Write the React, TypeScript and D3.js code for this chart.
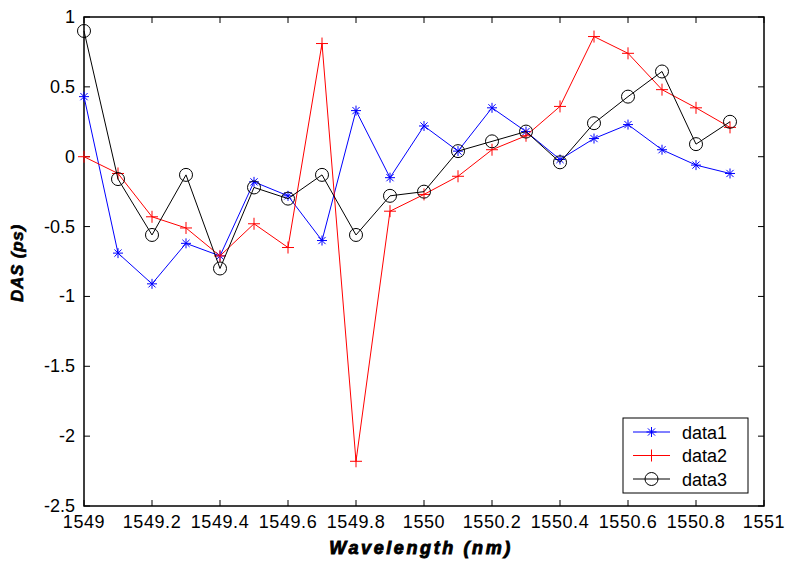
import * as d3 from 'd3';
import React, {useEffect, useRef} from 'react';

// wavelength grid (nm)
const wavelengths = [1549, 1549.1, 1549.2, 1549.3, 1549.4, 1549.5, 1549.6, 1549.7, 1549.8, 1549.9,
  1550, 1550.1, 1550.2, 1550.3, 1550.4, 1550.5, 1550.6, 1550.7, 1550.8, 1550.9];

const data1 = [0.43, -0.69, -0.91, -0.62, -0.71, -0.18, -0.28, -0.60, 0.33, -0.15,
  0.22, 0.04, 0.35, 0.18, -0.02, 0.13, 0.23, 0.05, -0.06, -0.12];
const data2 = [0, -0.12, -0.43, -0.51, -0.71, -0.48, -0.65, 0.81, -2.18, -0.39,
  -0.27, -0.14, 0.05, 0.15, 0.36, 0.86, 0.74, 0.48, 0.35, 0.21];
const data3 = [0.90, -0.16, -0.56, -0.13, -0.80, -0.22, -0.30, -0.13, -0.56, -0.28,
  -0.25, 0.04, 0.11, 0.18, -0.04, 0.24, 0.43, 0.61, 0.09, 0.25];

const xTicks = [1549, 1549.2, 1549.4, 1549.6, 1549.8, 1550, 1550.2, 1550.4, 1550.6, 1550.8, 1551];
const yTicks = [1, 0.5, 0, -0.5, -1, -1.5, -2, -2.5];

const seriesNames = ['data1', 'data2', 'data3'];
const seriesColors = ['#0000ff', '#ff0000', '#000000'];
const seriesMarkers = ['star', 'plus', 'circle'];

const font = '"Liberation Sans", Arial, sans-serif';

function drawMarker(g: any, type: string, color: string) {
  if (type === 'circle') {
    g.append('circle').attr('r', 6.5).attr('fill', 'none').attr('stroke', color).attr('stroke-width', 1);
  } else if (type === 'plus') {
    g.append('path').attr('d', 'M-6,0H6M0,-6V6').attr('stroke', color).attr('stroke-width', 1);
  } else {
    g.append('path')
      .attr('d', 'M-5,0H5M0,-5V5M-3.6,-3.6L3.6,3.6M-3.6,3.6L3.6,-3.6')
      .attr('stroke', color).attr('stroke-width', 1);
  }
}

const App = () => {
  const ref = useRef<SVGSVGElement>(null);

  useEffect(() => {
    const svg = d3.select(ref.current);
    svg.selectAll('*').remove();
    const width = 785;
    const height = 562;
    const margin = {top: 17, right: 21, bottom: 56, left: 84};

    const x = d3.scaleLinear().domain([1549, 1551]).range([margin.left, width - margin.right]);
    const y = d3.scaleLinear().domain([-2.5, 1]).range([height - margin.bottom, margin.top]);

    svg.append('rect').attr('width', width).attr('height', height).attr('fill', '#fff');

    // axes with inward ticks, mirrored on top/right
    const tickLen = 6;
    const axisG = svg.append('g').attr('stroke', '#000').attr('stroke-width', 1);
    xTicks.forEach((t) => {
      axisG.append('line').attr('x1', x(t)).attr('x2', x(t))
        .attr('y1', y(-2.5)).attr('y2', y(-2.5) - tickLen);
      axisG.append('line').attr('x1', x(t)).attr('x2', x(t))
        .attr('y1', y(1)).attr('y2', y(1) + tickLen);
    });
    yTicks.forEach((t) => {
      axisG.append('line').attr('x1', x(1549)).attr('x2', x(1549) + tickLen)
        .attr('y1', y(t)).attr('y2', y(t));
      axisG.append('line').attr('x1', x(1551)).attr('x2', x(1551) - tickLen)
        .attr('y1', y(t)).attr('y2', y(t));
    });
    svg.append('rect')
      .attr('x', x(1549)).attr('y', y(1))
      .attr('width', x(1551) - x(1549)).attr('height', y(-2.5) - y(1))
      .attr('fill', 'none').attr('stroke', '#000').attr('stroke-width', 1.5);

    svg.append('g').selectAll('text').data(xTicks).join('text')
      .attr('x', (d) => x(d)).attr('y', y(-2.5) + 22)
      .attr('text-anchor', 'middle')
      .style('font-family', font).style('font-size', '18px')
      .style('letter-spacing', '0.6px')
      .text((d) => String(d));

    svg.append('g').selectAll('text').data(yTicks).join('text')
      .attr('x', x(1549) - 9).attr('y', (d) => y(d) + 6)
      .attr('text-anchor', 'end')
      .style('font-family', font).style('font-size', '18px')
      .text((d) => String(d));

    // series
    const allSeries = [data1, data2, data3];
    const line = d3.line<number>().x((d, i) => x(wavelengths[i])).y((d) => y(d));
    allSeries.forEach((vals, si) => {
      svg.append('path').datum(vals).attr('d', line)
        .attr('fill', 'none').attr('stroke', seriesColors[si]).attr('stroke-width', 1);
      vals.forEach((v, i) => {
        const g = svg.append('g').attr('transform', `translate(${x(wavelengths[i])},${y(v)})`);
        drawMarker(g, seriesMarkers[si], seriesColors[si]);
      });
    });

    // axis titles (heavy bold italic, like the original)
    svg.append('text')
      .attr('x', (x(1549) + x(1551)) / 2 - 3).attr('y', 554)
      .attr('text-anchor', 'middle')
      .style('font-family', font).style('font-size', '18px')
      .style('font-weight', 'bold').style('font-style', 'italic')
      .style('letter-spacing', '2.6px')
      .attr('stroke', '#000').attr('stroke-width', 0.9)
      .text('Wavelength (nm)');

    svg.append('text')
      .attr('transform', `translate(23,263) rotate(-90)`)
      .attr('text-anchor', 'middle')
      .style('font-family', font).style('font-size', '17px')
      .style('font-weight', 'bold').style('font-style', 'italic')
      .style('letter-spacing', '0.8px')
      .attr('stroke', '#000').attr('stroke-width', 0.6)
      .text('DAS (ps)');

    // legend
    const lg = svg.append('g').attr('transform', 'translate(623,418)');
    lg.append('rect').attr('width', 125).attr('height', 75)
      .attr('fill', '#fff').attr('stroke', '#000').attr('stroke-width', 1);
    seriesNames.forEach((name, i) => {
      const yy = 14 + i * 23.5;
      lg.append('line').attr('x1', 10).attr('x2', 47).attr('y1', yy).attr('y2', yy)
        .attr('stroke', seriesColors[i]).attr('stroke-width', 1);
      const m = lg.append('g').attr('transform', `translate(28.5,${yy})`);
      drawMarker(m, seriesMarkers[i], seriesColors[i]);
      lg.append('text').attr('x', 59).attr('y', yy + 6.5)
        .style('font-family', font).style('font-size', '18px')
        .text(name);
    });
  }, []);

  return (
    <svg ref={ref} width={785} height={562} style={{display: 'block', position: 'absolute', left: 0, top: 0}} />
  );
};

export default App;
